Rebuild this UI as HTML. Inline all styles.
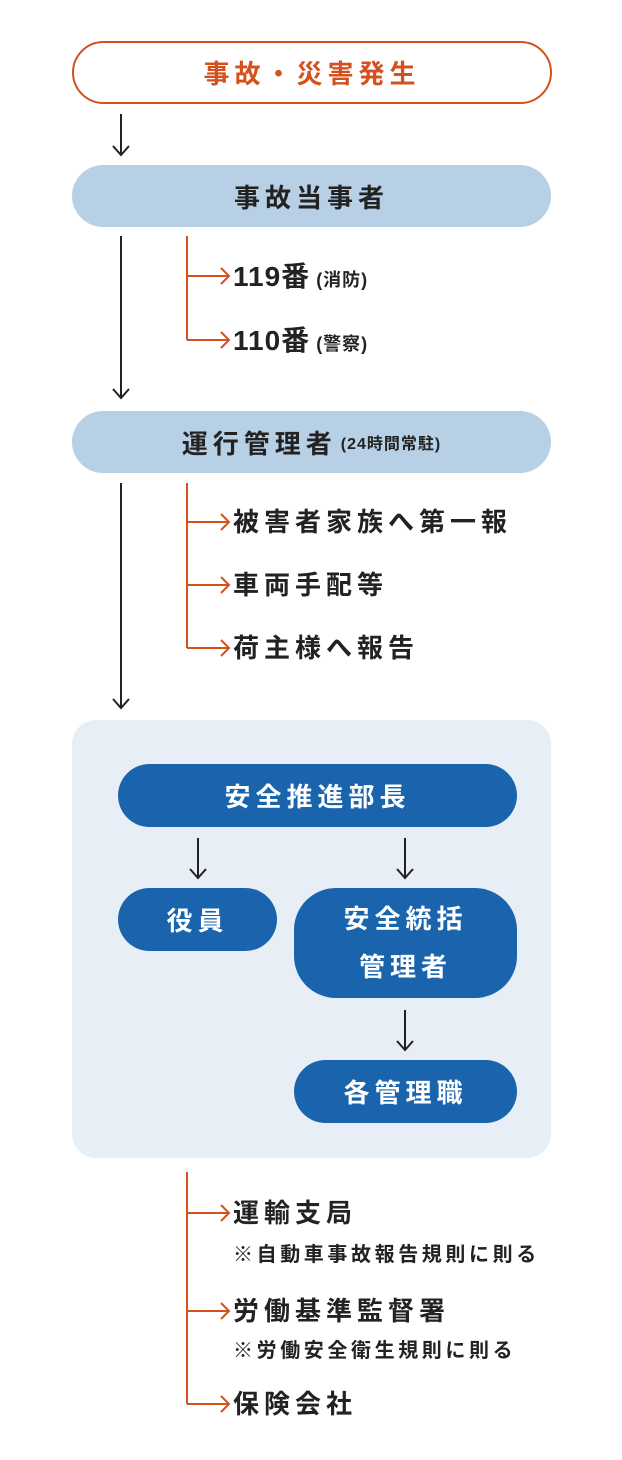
<!DOCTYPE html>
<html><head><meta charset="utf-8"><style>
body{margin:0;width:622px;height:1460px;background:#fff;position:relative;font-family:"Liberation Sans","Noto Sans CJK JP",sans-serif;overflow:hidden}
.a{position:absolute}
.box{position:absolute;display:flex;align-items:center;justify-content:center;font-weight:bold;letter-spacing:5px}
.t{position:absolute;font-weight:bold;color:#222;white-space:nowrap;line-height:1;letter-spacing:5px}
.n{font-size:20px!important;letter-spacing:3.6px!important}
</style></head><body>
<div class="box" style="left:72px;top:41px;width:476px;height:59px;border:2px solid #d4501c;border-radius:32px;color:#d4501c;font-size:26px">事故・災害発生</div>
<div class="box" style="left:72px;top:165px;width:479px;height:62px;background:#b8d0e6;border-radius:31px;color:#222;font-size:26px">事故当事者</div>
<div class="box" style="left:72px;top:411px;width:479px;height:62px;background:#b8d0e6;border-radius:31px;color:#222;font-size:26px">運行管理者<span style="font-size:16px;margin-left:4px;letter-spacing:1px">(24時間常駐)</span></div>
<div class="a" style="left:72px;top:720px;width:479px;height:438px;background:#e7eef6;border-radius:24px"></div>
<div class="box" style="left:118px;top:764px;width:399px;height:63px;background:#1a64ae;border-radius:32px;color:#fff;font-size:26px">安全推進部長</div>
<div class="box" style="left:118px;top:888px;width:159px;height:63px;background:#1a64ae;border-radius:32px;color:#fff;font-size:26px">役員</div>
<div class="box" style="left:294px;top:888px;width:223px;height:110px;background:#1a64ae;border-radius:42px;color:#fff;font-size:26px;text-align:center;line-height:48px">安全統括<br>管理者</div>
<div class="box" style="left:294px;top:1060px;width:223px;height:63px;background:#1a64ae;border-radius:32px;color:#fff;font-size:26px">各管理職</div>
<svg class="a" style="left:0;top:0" width="622" height="1460">
<g stroke="#222" stroke-width="2" fill="none">
<path d="M121 114V155M113 146L121 155L129 146"/>
<path d="M121 236V398M113 389L121 398L129 389"/>
<path d="M121 483V708M113 699L121 708L129 699"/>
<path d="M198 838V878M190 869L198 878L206 869"/>
<path d="M405 838V878M397 869L405 878L413 869"/>
<path d="M405 1010V1050M397 1041L405 1050L413 1041"/>
</g>
<g stroke="#d4501c" stroke-width="2" fill="none">
<path d="M187 236V340"/>
<path d="M187 276H229M221 268L229 276L221 284"/>
<path d="M187 340H229M221 332L229 340L221 348"/>
<path d="M187 483V648"/>
<path d="M187 522H229M221 514L229 522L221 530"/>
<path d="M187 585H229M221 577L229 585L221 593"/>
<path d="M187 648H229M221 640L229 648L221 656"/>
<path d="M187 1172V1404"/>
<path d="M187 1213H229M221 1205L229 1213L221 1221"/>
<path d="M187 1311H229M221 1303L229 1311L221 1319"/>
<path d="M187 1404H229M221 1396L229 1404L221 1412"/>
</g>
</svg>
<div class="t" style="left:233px;top:263px;font-size:28px;letter-spacing:1px">119番<span style="font-size:18px;margin-left:6px">(消防)</span></div>
<div class="t" style="left:233px;top:327px;font-size:28px;letter-spacing:1px">110番<span style="font-size:18px;margin-left:6px">(警察)</span></div>
<div class="t" style="left:233px;top:509px;font-size:26px">被害者家族へ第一報</div>
<div class="t" style="left:233px;top:572px;font-size:26px">車両手配等</div>
<div class="t" style="left:233px;top:635px;font-size:26px">荷主様へ報告</div>
<div class="t" style="left:233px;top:1200px;font-size:26px">運輸支局</div>
<div class="t n" style="left:233px;top:1245px">※自動車事故報告規則に則る</div>
<div class="t" style="left:233px;top:1298px;font-size:26px">労働基準監督署</div>
<div class="t n" style="left:233px;top:1341px">※労働安全衛生規則に則る</div>
<div class="t" style="left:233px;top:1391px;font-size:26px">保険会社</div>
</body></html>
